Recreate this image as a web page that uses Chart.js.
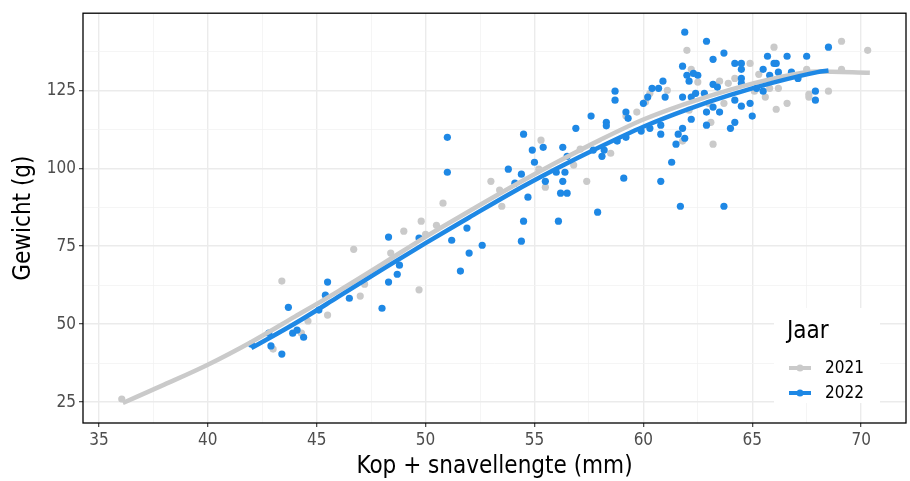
<!DOCTYPE html>
<html lang="nl">
<head>
<meta charset="utf-8"/>
<title>Gewicht vs kop + snavellengte</title>
<script src="https://cdn.jsdelivr.net/npm/chart.js"></script>
<style>
  body { margin: 0; background: #fff; }
  #wrap { width: 910px; height: 481px; }
</style>
</head>
<body>
<div id="wrap"><canvas id="chart" width="910" height="481"></canvas></div>
<script>
  // 2021 metingen
  const x2021 = [36.05, 43.4, 43.0, 44.6, 45.5, 44.3, 46.7, 47.0, 49.0, 48.4, 47.2, 49.7, 50.8, 49.8, 50.5,
    50.0, 53.5, 53.0, 53.4, 55.3, 55.2, 55.5, 56.8, 57.4, 58.5, 57.1, 59.2, 59.7, 60.1, 60.3,
    61.1, 62.0, 62.2, 62.5, 62.1, 61.8, 63.2, 63.1, 63.0, 63.5, 63.7, 63.9, 64.2, 64.9, 66.0,
    65.1, 65.3, 65.6, 65.8, 66.2, 66.1, 66.6, 67.5, 67.6, 67.6, 68.5, 69.1, 69.1, 70.3];
  const y2021 = [26.0, 63.8, 42.0, 51.0, 52.9, 47.1, 74.0, 59.0, 79.8, 72.8, 62.8, 61.0, 88.8, 83.0, 81.7,
    78.8, 87.8, 95.8, 93.0, 109.0, 99.7, 93.9, 101.0, 95.8, 104.8, 106.1, 116.7, 118.0, 121.2, 124.0,
    125.0, 137.8, 131.7, 127.6, 118.6, 108.7, 107.7, 114.7, 120.8, 127.9, 120.8, 127.2, 128.8, 133.6, 138.8,
    124.7, 130.1, 122.8, 125.6, 125.6, 118.9, 120.8, 131.7, 123.7, 122.8, 124.7, 140.7, 131.7, 137.8];

  // 2022 metingen
  const x2022 = [45.5, 43.7, 42.8, 42.9, 43.4, 43.9, 44.1, 44.4, 45.1, 45.4, 46.5, 42.0, 48.0, 48.3, 48.3,
    48.7, 48.8, 49.7, 51.2, 51.6, 51.9, 52.0, 52.6, 54.4, 54.5, 56.1, 57.9, 51.0, 51.0, 53.8,
    54.1, 54.4, 54.7, 54.5, 54.9, 55.0, 55.4, 55.5, 56.3, 56.0, 56.4, 56.3, 56.2, 56.5, 56.9,
    56.5, 61.9, 62.9, 63.7, 63.2, 61.8, 62.3, 62.5, 62.0, 62.1, 60.9, 60.7, 60.4, 61.0, 60.2,
    60.0, 61.8, 62.2, 62.4, 62.8, 63.2, 63.4, 62.9, 63.2, 63.5, 62.9, 62.2, 61.8, 61.6, 61.9,
    61.5, 60.8, 60.8, 60.3, 59.9, 59.2, 58.8, 59.3, 59.2, 58.3, 58.3, 57.6, 58.7, 58.7, 57.7,
    58.2, 58.1, 59.1, 60.8, 61.3, 61.7, 63.7, 64.2, 64.5, 64.5, 64.5, 64.5, 64.2, 64.5, 64.9,
    65.0, 64.2, 64.0, 65.7, 66.6, 66.0, 66.1, 65.5, 65.8, 66.2, 66.8, 67.1, 65.2, 65.5, 67.5,
    68.5, 67.9, 67.9];
  const y2022 = [63.5, 55.4, 47.1, 43.0, 40.4, 47.1, 48.1, 45.8, 54.5, 59.3, 58.3, 43.6, 55.1, 77.9, 63.5,
    66.0, 68.9, 77.6, 76.9, 67.0, 80.8, 72.8, 75.3, 76.6, 83.0, 83.0, 85.9, 109.9, 98.7, 99.7,
    95.2, 98.1, 90.7, 110.9, 105.8, 101.9, 106.7, 95.8, 106.7, 98.7, 98.7, 95.8, 92.0, 92.0, 112.8,
    103.8, 143.6, 140.7, 136.9, 134.9, 132.7, 130.4, 129.8, 129.8, 127.9, 127.9, 125.6, 125.6, 122.8, 122.8,
    120.8, 122.8, 122.8, 124.0, 124.0, 126.9, 126.0, 118.0, 119.6, 118.0, 113.8, 115.7, 112.8, 110.9, 109.6,
    107.7, 113.8, 110.9, 112.8, 111.9, 109.9, 108.7, 116.0, 118.0, 114.7, 113.6, 116.7, 121.8, 124.7, 105.8,
    105.8, 103.8, 96.8, 95.8, 101.9, 87.8, 87.8, 133.6, 133.6, 131.7, 128.8, 127.2, 121.8, 119.9, 120.8,
    116.7, 114.7, 112.8, 135.9, 135.9, 133.6, 133.6, 131.7, 129.8, 130.8, 130.8, 128.8, 125.6, 124.7, 135.9,
    138.8, 124.7, 121.8];

  const fitX2021 = [36.1, 38, 40, 42, 44, 46, 48, 50, 52, 54, 56, 58, 60, 62, 64, 66, 68, 70.4];
  const fitY2021 = [24.7, 30.6, 37.0, 44.3, 52.4, 60.6, 69.2, 78.0, 86.2, 94.2, 101.8, 109.0, 115.6, 120.8, 125.2, 128.8, 131.0, 130.6];
  const fitX2022 = [42, 44, 46, 48, 50, 52, 54, 56, 58, 60, 62, 64, 66, 68, 68.5];
  const fitY2022 = [42.3, 50.2, 58.8, 67.5, 76.0, 84.2, 92.3, 99.8, 106.8, 113.3, 118.8, 123.5, 127.5, 130.8, 131.3];

  const xTicks = [35, 40, 45, 50, 55, 60, 65, 70];
  const yTicks = [25, 50, 75, 100, 125];

  const GREY = '#cacaca';
  const BLUE = '#1e88e5';
  const FONT = "'Liberation Sans Narrow', 'DejaVu Sans Condensed', Roboto, sans-serif";

  const pts = (xs, ys) => xs.map((x, i) => ({ x: x, y: ys[i] }));

  // major + minor gridlines
  function withMinor(major) {
    const out = [];
    for (let i = 0; i < major.length; i++) {
      out.push({ value: major[i] });
      if (i < major.length - 1) out.push({ value: (major[i] + major[i + 1]) / 2 });
    }
    return out;
  }
  const isMajor = v => xTicks.includes(v) || yTicks.includes(v);

  const gridOpts = {
    color: c => isMajor(c.tick.value) ? '#ebebeb' : '#f3f3f3',
    lineWidth: c => isMajor(c.tick.value) ? 1.4 : 0.8,
    tickColor: c => isMajor(c.tick.value) ? '#333333' : 'rgba(0,0,0,0)',
    tickLength: 4,
    tickWidth: 1.1,
    drawTicks: true
  };

  // panel border + legend inside bottom right
  const panelAndLegend = {
    id: 'panelAndLegend',
    afterDraw(chart) {
      const ctx = chart.ctx;
      const a = chart.chartArea;
      ctx.save();
      ctx.strokeStyle = '#000';
      ctx.lineWidth = 1.3;
      ctx.strokeRect(a.left, a.top, a.right - a.left, a.bottom - a.top);

      const bx = 774, by = 308, bw = 106, bh = 95;
      ctx.fillStyle = '#fff';
      ctx.fillRect(bx, by, bw, bh);
      ctx.fillStyle = '#000';
      ctx.textBaseline = 'alphabetic';
      ctx.textAlign = 'left';
      ctx.font = '24px ' + FONT;
      ctx.fillText('Jaar', bx + 13, by + 30);

      const items = [['2021', GREY, 368], ['2022', BLUE, 393]];
      items.forEach(([label, col, y]) => {
        ctx.strokeStyle = col;
        ctx.lineWidth = 4;
        ctx.beginPath();
        ctx.moveTo(bx + 15, y);
        ctx.lineTo(bx + 37, y);
        ctx.stroke();
        ctx.fillStyle = col;
        ctx.beginPath();
        ctx.arc(bx + 26, y, 3.5, 0, Math.PI * 2);
        ctx.fill();
        ctx.fillStyle = '#000';
        ctx.font = '17px ' + FONT;
        ctx.textBaseline = 'middle';
        ctx.fillText(label, bx + 51, y + 1);
      });
      ctx.restore();
    }
  };

  new Chart(document.getElementById('chart'), {
    type: 'scatter',
    data: {
      datasets: [
        { label: '2022 trend', type: 'line', data: pts(fitX2022, fitY2022), borderColor: BLUE, borderWidth: 4.5,
          pointRadius: 0, cubicInterpolationMode: 'monotone', borderCapStyle: 'butt', fill: false, order: 0 },
        { label: '2021 trend', type: 'line', data: pts(fitX2021, fitY2021), borderColor: GREY, borderWidth: 4.5,
          pointRadius: 0, cubicInterpolationMode: 'monotone', borderCapStyle: 'butt', fill: false, order: 1 },
        { label: '2022', data: pts(x2022, y2022), backgroundColor: BLUE, borderWidth: 0, pointRadius: 3.6, order: 2 },
        { label: '2021', data: pts(x2021, y2021), backgroundColor: GREY, borderWidth: 0, pointRadius: 3.6, order: 3 }
      ]
    },
    options: {
      responsive: false,
      animation: false,
      devicePixelRatio: 1,
      layout: { padding: { top: 13, right: 1, left: 0, bottom: 0 } },
      plugins: { legend: { display: false }, tooltip: { enabled: false } },
      scales: {
        x: {
          type: 'linear', min: 34.27, max: 72.06,
          afterBuildTicks: s => { s.ticks = withMinor(xTicks); },
          afterFit: s => { s.height = 58; },
          grid: gridOpts,
          border: { display: false },
          ticks: { color: '#4d4d4d', font: { family: FONT, size: 17 }, padding: 3, maxRotation: 0,
                   autoSkip: false, callback: v => xTicks.includes(v) ? String(v) : '' },
          title: { display: true, text: 'Kop + snavellengte (mm)', color: '#000',
                   font: { family: FONT, size: 24 }, padding: { top: 0, bottom: 0 } }
        },
        y: {
          type: 'linear', min: 18.3, max: 149.7,
          afterBuildTicks: s => { s.ticks = withMinor(yTicks).concat([{ value: 137.5 }]); },
          afterFit: s => { s.width = 83; },
          grid: gridOpts,
          border: { display: false },
          ticks: { color: '#4d4d4d', font: { family: FONT, size: 17 }, padding: 3,
                   autoSkip: false, callback: v => yTicks.includes(v) ? String(v) : '' },
          title: { display: true, text: 'Gewicht (g)', color: '#000',
                   font: { family: FONT, size: 24 }, padding: { top: 9, bottom: 0 } }
        }
      }
    },
    plugins: [panelAndLegend]
  });
</script>
</body>
</html>
